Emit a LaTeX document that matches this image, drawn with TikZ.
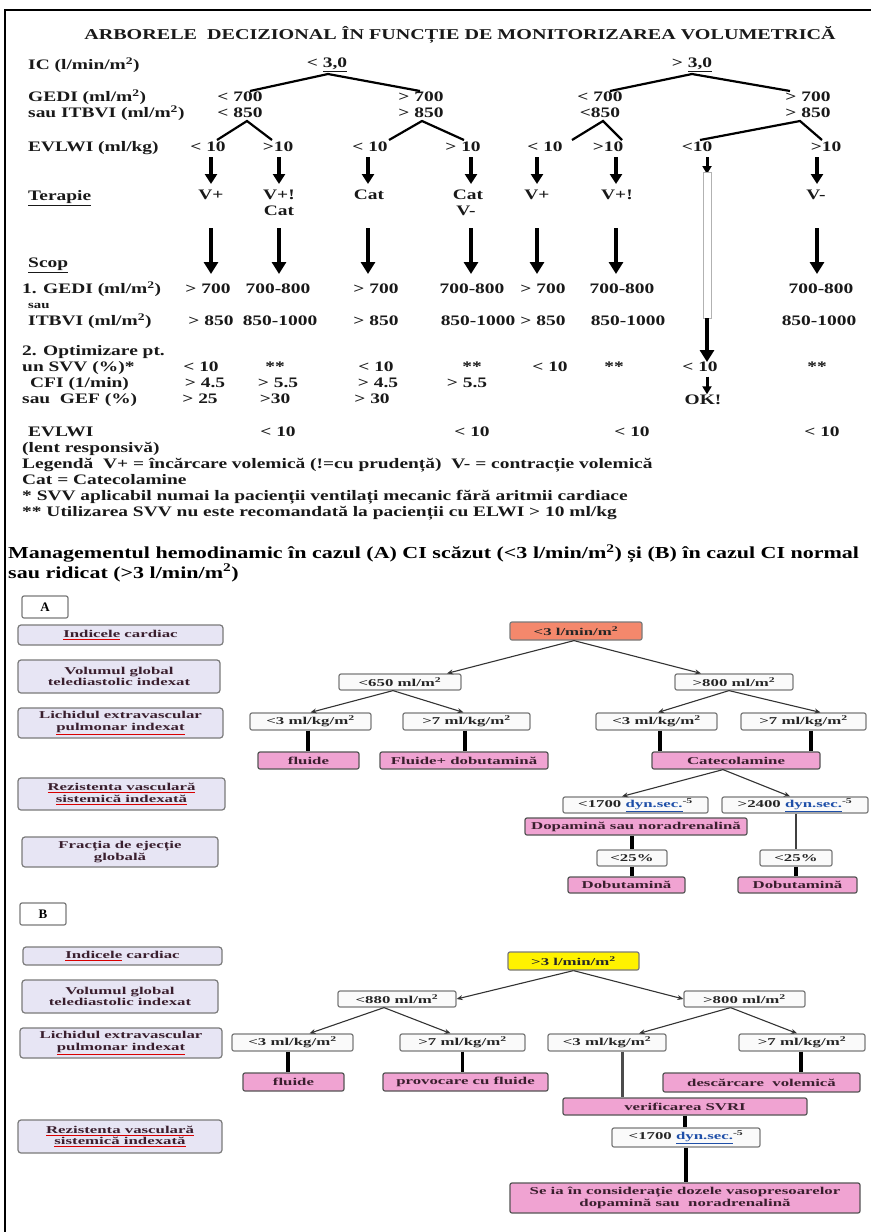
\documentclass[tikz,border=0pt]{standalone}
\usepackage{fontspec}
\setmainfont{Liberation Serif}
\newfontfamily\widef[FakeStretch=1.34]{Liberation Serif}
\newfontfamily\headf[FakeStretch=1.31]{Liberation Serif}
\newfontfamily\boxfont[FakeStretch=1.6]{Liberation Serif}
\usetikzlibrary{arrows.meta,calc}

\definecolor{lav}{HTML}{E7E5F4}
\definecolor{lbltxt}{HTML}{3A1F2E}
\definecolor{pinkbox}{HTML}{F0A3D2}
\definecolor{rootorange}{HTML}{F4886C}
\definecolor{edgegray}{HTML}{7A7A7A}
\definecolor{edgedark}{HTML}{555555}
\definecolor{linkblue}{HTML}{1F4FA8}

% spell-check style underline and the SVRI unit
\newcommand\redul[1]{{\color{red!85!black}\underline{{\color{lbltxt}#1}}}}
\newcommand\dynunit{{\color{linkblue}\underline{dyn.sec.}}\textsuperscript{-5}}

% box: style, name, x1, y1, x2, y2, text
\newcommand\bx[7]{%
  \node[#1, minimum width={(#5)-(#3)}, minimum height={(#6)-(#4)}] (#2)
    at ({((#3)+(#5))/2},{((#4)+(#6))/2}) {#7};}

\tikzset{
  tx/.style={font=\widef\bfseries\fontsize{14.5}{16}\selectfont, inner sep=0pt,
    text height=10pt, text depth=3pt, text=black!90},
  txl/.style={tx, anchor=west},
  boxtext/.style={font=\boxfont\bfseries\fontsize{10.5}{11.5}\selectfont, align=center, inner sep=1pt},
  lab/.style={boxtext, draw=edgegray, fill=lav, rounded corners=3pt, line width=1.2pt, text=lbltxt},
  wbox/.style={boxtext, draw=edgegray, fill=white!96!gray, rounded corners=2pt, line width=1.2pt, text=black!85},
  pbox/.style={boxtext, draw=edgedark, fill=pinkbox, rounded corners=2pt, line width=1.2pt, text=lbltxt},
  rootA/.style={wbox, fill=rootorange},
  rootB/.style={wbox, fill=yellow},
  letterbox/.style={draw=edgegray, fill=white, rounded corners=2pt, line width=1.2pt,
    font=\bfseries\fontsize{13}{14}\selectfont},
  tline/.style={line width=2.2pt, black},
  sarrow/.style={line width=3.6pt, black, -{Triangle[width=12pt,length=10pt]}},
  larrow/.style={line width=4.6pt, black, -{Triangle[width=14pt,length=12pt]}},
  arr/.style={draw=black!80, line width=1.1pt, -{Stealth[length=6pt,width=5pt]}},
  vconn/.style={line width=3.5pt, black},
  vthin/.style={line width=2.2pt, black!75},
  headtx/.style={anchor=west, inner sep=0pt, font=\headf\bfseries\fontsize{16.8}{18}\selectfont},
}

\begin{document}
\begin{tikzpicture}[x=1pt,y=-1pt]
\fill[white] (0,0) rectangle (871,1232);
\useasboundingbox (0,0) rectangle (871,1232);

% page frame
\draw[line width=2pt] (5,1232) -- (5,10) -- (871,10);

% ---------- decision tree by volumetric monitoring ----------
\node[tx, font=\widef\bfseries\fontsize{15}{16}\selectfont] (title) at (460,36)
  {ARBORELE\ \ DECIZIONAL ÎN FUNCȚIE DE MONITORIZAREA VOLUMETRICĂ};

\node[txl] (hIC) at (28,66) {IC (l/min/m\textsuperscript{2})};
\node[txl] (hGEDI) at (28,98) {GEDI (ml/m\textsuperscript{2})};
\node[txl] (hITBVI) at (28,114) {sau ITBVI (ml/m\textsuperscript{2})};
\node[txl] (hEVLWI) at (28,148) {EVLWI (ml/kg)};
\node[txl] (hTer) at (28,197) {\underline{Terapie}};
\node[txl] (hScop) at (28,264) {\underline{Scop}};

\node[tx] (ic1) at (327,64) {< \underline{3,0}};
\node[tx] (ic2) at (692,64) {> \underline{3,0}};

\foreach \n/\x/\t in {g1/240/< 700, g2/421/> 700, g3/600/< 700, g4/808/> 700}
  \node[tx] (\n) at (\x,98) {\t};
\foreach \n/\x/\t in {i1/240/< 850, i2/421/> 850, i3/600/<850, i4/808/> 850}
  \node[tx] (\n) at (\x,114) {\t};

% branching lines
\coordinate (ap0) at (328,74);  \coordinate (ap0l) at (250,91); \coordinate (ap0r) at (420,91);
\coordinate (ap1) at (692,74);  \coordinate (ap1l) at (610,91); \coordinate (ap1r) at (790,91);
\draw[tline] (ap0l) -- (ap0) -- (ap0r);
\draw[tline] (ap1l) -- (ap1) -- (ap1r);
\foreach \k/\a/\l/\r in {1/247/217/272, 2/422/389/464, 3/603/572/622, 4/800/700/822}{
  \coordinate (bp\k) at (\a,121);
  \coordinate (bp\k l) at (\l,140);
  \coordinate (bp\k r) at (\r,140);
  \draw[tline] (bp\k l) -- (bp\k) -- (bp\k r);
}

\foreach \n/\x/\t in {e1/208/< 10, e2/278/>10, e3/370/< 10, e4/463/> 10,
                      e5/545/< 10, e6/608/>10, e7/697/<10, e8/826/>10}
  \node[tx] (\n) at (\x,148) {\t};

% short and long arrows
\foreach \i/\x in {1/211,2/279,3/368,4/471,5/537,6/616,7/817}{
  \coordinate (sa\i) at (\x,157); \coordinate (sb\i) at (\x,184);
  \draw[sarrow] (sa\i) -- (sb\i);
  \coordinate (la\i) at (\x,228); \coordinate (lb\i) at (\x,274);
  \draw[larrow] (la\i) -- (lb\i);
}
\coordinate (sa8) at (707,157); \coordinate (sb8) at (707,174);
\draw[line width=3pt, -{Triangle[width=9pt,length=8pt]}] (sa8) -- (sb8);
\node[draw=gray!60, line width=0.8pt, fill=white, minimum width=8pt, minimum height=146pt, inner sep=0pt]
  (bar) at (707,245) {};
\coordinate (okend) at (707,362);
\draw[larrow] (bar.south) -- (okend);

\foreach \n/\x/\t in {t1/211/V+, t2/279/V+!, t3/369/Cat, t4/468/Cat, t5/537/V+, t6/617/V+!, t7/816/V-}
  \node[tx] (\n) at (\x,196) {\t};
\node[tx] (t2b) at (279,212) {Cat};
\node[tx] (t4b) at (466,212) {V-};

\node[txl] (r1) at (22,290) {1. GEDI (ml/m\textsuperscript{2})};
\node[txl, font=\widef\bfseries\fontsize{11}{12}\selectfont] (r1s) at (28,305) {sau};
\node[txl] (r1b) at (28,322) {ITBVI (ml/m\textsuperscript{2})};
\foreach \n/\x/\t in {v1/208/> 700, v2/278/700-800, v3/376/> 700, v4/472/700-800,
                      v5/543/> 700, v6/622/700-800, v7/821/700-800}
  \node[tx] (\n) at (\x,290) {\t};
\foreach \n/\x/\t in {w1/211/> 850, w2/280/850-1000, w3/376/> 850, w4/478/850-1000,
                      w5/543/> 850, w6/628/850-1000, w7/819/850-1000}
  \node[tx] (\n) at (\x,322) {\t};

\node[txl] (r2) at (22,352) {2. Optimizare pt.};
\node[txl] (r2a) at (22,368) {un SVV (\%)*};
\node[txl] (r2b) at (30,384) {CFI (1/min)};
\node[txl] (r2c) at (22,400) {sau\ \ GEF (\%)};
\foreach \n/\x/\t in {s1/201/< 10, s2/275/**, s3/376/< 10, s4/472/**,
                      s5/550/< 10, s6/614/**, s7/700/< 10, s8/817/**}
  \node[tx] (\n) at (\x,368) {\t};
\foreach \n/\x/\t in {c1/205/> 4.5, c2/278/> 5.5, c3/378/> 4.5, c4/467/> 5.5}
  \node[tx] (\n) at (\x,384) {\t};
\foreach \n/\x/\t in {f1/200/> 25, f2/275/>30, f3/372/> 30}
  \node[tx] (\n) at (\x,400) {\t};
\node[tx] (ok) at (703,401) {OK!};
\draw[line width=3pt, -{Triangle[width=9pt,length=8pt]}] ([yshift=-2pt]s7.south -| okend) -- (ok.north -| okend);

\node[txl] (r3) at (28,433) {EVLWI};
\foreach \n/\x in {x1/278, x2/472, x3/632, x4/822}
  \node[tx] (\n) at (\x,433) {< 10};
\node[txl] (lent) at (22,449) {(lent responsivă)};
\node[txl] (leg1) at (22,465) {Legendă\ \ V+ = încărcare volemică (!=cu prudență)\ \ V- = contracție volemică};
\node[txl] (leg2) at (22,481) {Cat = Catecolamine};
\node[txl] (leg3) at (22,497) {* SVV aplicabil numai la pacienții ventilați mecanic fără aritmii cardiace};
\node[txl] (leg4) at (22,513) {** Utilizarea SVV nu este recomandată la pacienții cu ELWI > 10 ml/kg};

% ---------- heading of the management flowcharts ----------
\node[headtx] (head1) at (8,554)
  {Managementul hemodinamic în cazul (A) CI scăzut (<3 l/min/m\textsuperscript{2}) și (B) în cazul CI normal};
\node[headtx] (head2) at (8,573)
  {sau ridicat (>3 l/min/m\textsuperscript{2})};

% ---------- A: low cardiac index ----------
\bx{letterbox}{boxA}{22}{596}{68}{618}{A}
\bx{lab}{lA1}{18}{625}{223}{645}{\redul{Indicele} cardiac}
\bx{lab}{lA2}{18}{660}{220}{693}{Volumul global\\telediastolic indexat}
\bx{lab}{lA3}{18}{708}{223}{738}{Lichidul extravascular\\\redul{pulmonar indexat}}
\bx{lab}{lA4}{18}{778}{225}{810}{\redul{Rezistenta vasculară}\\\redul{sistemică indexată}}
\bx{lab}{lA5}{22}{837}{218}{867}{Fracția de ejecție\\globală}

\bx{rootA}{rA}{510}{622}{642}{640}{<3 l/min/m\textsuperscript{2}}
\bx{wbox}{a650}{339}{674}{461}{690}{<650 ml/m\textsuperscript{2}}
\bx{wbox}{a800}{675}{674}{793}{690}{>800 ml/m\textsuperscript{2}}
\bx{wbox}{a3l}{250}{713}{371}{730}{<3 ml/kg/m\textsuperscript{2}}
\bx{wbox}{a7l}{403}{713}{530}{730}{>7 ml/kg/m\textsuperscript{2}}
\bx{wbox}{a3r}{596}{713}{717}{730}{<3 ml/kg/m\textsuperscript{2}}
\bx{wbox}{a7r}{741}{713}{866}{730}{>7 ml/kg/m\textsuperscript{2}}
\bx{pbox}{afl}{258}{752}{359}{769}{fluide}
\bx{pbox}{afd}{380}{752}{548}{769}{Fluide+ dobutamină}
\bx{pbox}{acat}{652}{752}{820}{769}{Catecolamine}
\bx{wbox}{a1700}{563}{797}{708}{813}{<1700 \dynunit}
\bx{wbox}{a2400}{722}{797}{868}{813}{>2400 \dynunit}
\bx{pbox}{adop}{525}{818}{747}{835}{Dopamină sau noradrenalină}
\bx{wbox}{a25l}{597}{850}{667}{866}{<25\%}
\bx{wbox}{a25r}{760}{850}{832}{866}{<25\%}
\bx{pbox}{adobl}{568}{877}{685}{893}{Dobutamină}
\bx{pbox}{adobr}{738}{877}{857}{893}{Dobutamină}

\draw[arr] ([xshift=-2pt]rA.south) -- ([xshift=47pt]a650.north);
\draw[arr] ([xshift=-2pt]rA.south) -- ([xshift=-33pt]a800.north);
\draw[arr] ([xshift=-7pt]a650.south) -- (a3l.north);
\draw[arr] ([xshift=-7pt]a650.south) -- ([xshift=-3pt]a7l.north);
\draw[arr] ([xshift=-5pt]a800.south) -- ([xshift=1.5pt]a3r.north);
\draw[arr] ([xshift=-5pt]a800.south) -- ([xshift=17pt]a7r.north);
\draw[vconn] ([xshift=-2.5pt]a3l.south) -- ([xshift=-2.5pt]a3l.south |- afl.north);
\draw[vconn] ([xshift=-1.5pt]a7l.south) -- ([xshift=-1.5pt]a7l.south |- afd.north);
\draw[vconn] ([xshift=3.5pt]a3r.south) -- ([xshift=3.5pt]a3r.south |- acat.north);
\draw[vconn] ([xshift=7.5pt]a7r.south) -- ([xshift=7.5pt]a7r.south |- acat.north);
\draw[arr] ([xshift=-13pt]acat.south) -- ([xshift=-13.5pt]a1700.north);
\draw[arr] ([xshift=-13pt]acat.south) -- ([xshift=-5pt]a2400.north);
\draw[vconn] (a25l.north |- adop.south) -- (a25l.north);
\draw[vconn] (a25l.south) -- (a25l.south |- adobl.north);
\draw[vthin] (a25r.north |- a2400.south) -- (a25r.north);
\draw[vconn] (a25r.south) -- (a25r.south |- adobr.north);

% ---------- B: normal or high cardiac index ----------
\bx{letterbox}{boxB}{20}{903}{66}{925}{B}
\bx{lab}{lB1}{23}{947}{222}{965}{\redul{Indicele} cardiac}
\bx{lab}{lB2}{22}{980}{218}{1013}{Volumul global\\telediastolic indexat}
\bx{lab}{lB3}{20}{1028}{222}{1058}{Lichidul extravascular\\\redul{pulmonar indexat}}
\bx{lab}{lB4}{18}{1120}{222}{1153}{\redul{Rezistenta vasculară}\\\redul{sistemică indexată}}

\bx{rootB}{rB}{508}{952}{639}{970}{>3 l/min/m\textsuperscript{2}}
\bx{wbox}{b880}{338}{991}{456}{1007}{<880 ml/m\textsuperscript{2}}
\bx{wbox}{b800}{684}{991}{805}{1007}{>800 ml/m\textsuperscript{2}}
\bx{wbox}{b3l}{232}{1034}{353}{1051}{<3 ml/kg/m\textsuperscript{2}}
\bx{wbox}{b7l}{400}{1034}{525}{1051}{>7 ml/kg/m\textsuperscript{2}}
\bx{wbox}{b3r}{548}{1034}{666}{1051}{<3 ml/kg/m\textsuperscript{2}}
\bx{wbox}{b7r}{739}{1034}{865}{1051}{>7 ml/kg/m\textsuperscript{2}}
\bx{pbox}{bfl}{243}{1073}{344}{1091}{fluide}
\bx{pbox}{bprov}{383}{1073}{548}{1091}{provocare cu fluide}
\bx{pbox}{bdesc}{663}{1073}{860}{1092}{descărcare\ \ volemică}
\bx{pbox}{bver}{563}{1098}{807}{1115}{verificarea SVRI}
\bx{wbox}{b1700}{612}{1128}{760}{1147}{<1700 \dynunit}
\bx{pbox}{bse}{510}{1183}{860}{1213}{Se ia în considerație dozele vasopresoarelor\\dopamină sau\ \ noradrenalină}

\draw[arr] (rB.south) -- (b880.east);
\draw[arr] (rB.south) -- (b800.west);
\draw[arr] ([xshift=-13pt]b880.south) -- ([xshift=17pt]b3l.north);
\draw[arr] ([xshift=-13pt]b880.south) -- ([xshift=-12pt]b7l.north);
\draw[arr] ([xshift=-14pt]b800.south) -- ([xshift=32pt]b3r.north);
\draw[arr] ([xshift=-14pt]b800.south) -- ([xshift=-5pt]b7r.north);
\draw[vconn] ([xshift=-4.5pt]b3l.south) -- ([xshift=-4.5pt]b3l.south |- bfl.north);
\draw[vconn] (b7l.south) -- (b7l.south |- bprov.north);
\draw[line width=3pt, black!70] ([xshift=15pt]b3r.south) -- ([xshift=15pt]b3r.south |- bver.north);
\draw[vconn] ([xshift=-1pt]b7r.south) -- ([xshift=-1pt]b7r.south |- bdesc.north);
\draw[vconn] (bver.south) -- (bver.south |- b1700.north);
\draw[vconn] (b1700.south) -- (b1700.south |- bse.north);
\end{tikzpicture}
\end{document}
